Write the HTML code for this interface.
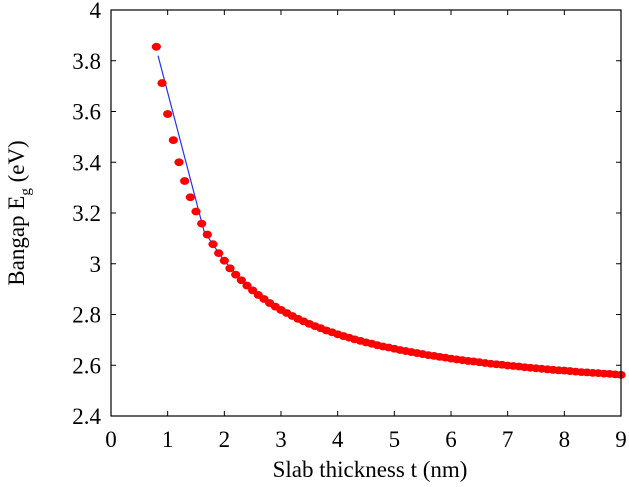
<!DOCTYPE html>
<html><head><meta charset="utf-8"><style>
html,body{margin:0;padding:0;background:#fff;}
svg{display:block;}
text{font-family:"Liberation Serif","Times New Roman",serif;}
</style></head><body>
<svg id="chart" width="629" height="487" xmlns="http://www.w3.org/2000/svg" font-family="Liberation Serif, serif">
<rect width="629" height="487" fill="#fff"/>
<g id="marks"></g>
<rect x="111" y="10" width="510" height="406" fill="none" stroke="#000" stroke-width="1.2"/>
<g id="axes"></g>
<text x="370" y="477" font-size="23" text-anchor="middle" font-family="Liberation Serif, serif">Slab thickness t (nm)</text>
<text transform="translate(24,213) rotate(-90)" font-size="23" text-anchor="middle" font-family="Liberation Serif, serif">Bangap E<tspan font-size="15" dy="6">g</tspan><tspan dy="-6"> (eV)</tspan></text>
</svg>
<script>
const thickness = [0.8,0.9,1.0,1.1,1.2,1.3,1.4,1.5,1.6,1.7,1.8,1.9,2.0,2.1,2.2,2.3,2.4,2.5,2.6,2.7,2.8,2.9,3.0,3.1,3.2,3.3,3.4,3.5,3.6,3.7,3.8,3.9,4.0,4.1,4.2,4.3,4.4,4.5,4.6,4.7,4.8,4.9,5.0,5.1,5.2,5.3,5.4,5.5,5.6,5.7,5.8,5.9,6.0,6.1,6.2,6.3,6.4,6.5,6.6,6.7,6.8,6.9,7.0,7.1,7.2,7.3,7.4,7.5,7.6,7.7,7.8,7.9,8.0,8.1,8.2,8.3,8.4,8.5,8.6,8.7,8.8,8.9,9.0];
const bandgap = [3.855,3.712,3.590,3.487,3.400,3.326,3.262,3.206,3.158,3.115,3.077,3.042,3.012,2.982,2.957,2.935,2.914,2.895,2.877,2.861,2.845,2.831,2.818,2.806,2.794,2.783,2.773,2.763,2.754,2.746,2.737,2.730,2.722,2.715,2.709,2.702,2.696,2.690,2.685,2.679,2.674,2.670,2.665,2.660,2.656,2.652,2.648,2.644,2.640,2.637,2.633,2.630,2.626,2.623,2.620,2.617,2.615,2.612,2.609,2.606,2.604,2.602,2.599,2.597,2.595,2.592,2.590,2.588,2.586,2.584,2.582,2.580,2.579,2.577,2.575,2.573,2.572,2.570,2.569,2.567,2.566,2.564,2.562,2.560,2.558];
const fitT = [0.83,1.64,1.8,2.0,2.3,2.6,3.0,4.0,5.0,6.0,7.0,8.0,9.0];
const fitE = [3.82,3.13,3.075,3.012,2.935,2.877,2.818,2.722,2.665,2.626,2.599,2.579,2.558];
const xTicks = [0,1,2,3,4,5,6,7,8,9];
const yTicks = [2.4,2.6,2.8,3,3.2,3.4,3.6,3.8,4];
const yTickLabels = ["2.4","2.6","2.8","3","3.2","3.4","3.6","3.8","4"];

const X0=111,X1=621,Y0=416,Y1=10;
const xs = t => X0 + (t-0)/(9-0)*(X1-X0);
const ys = e => Y0 - (e-2.4)/(4-2.4)*(Y0-Y1);
const NS="http://www.w3.org/2000/svg";
const marks=document.getElementById('marks'), axes=document.getElementById('axes');

const fit=document.createElementNS(NS,'polyline');
fit.setAttribute('points', fitT.map((t,i)=>xs(t)+','+ys(fitE[i])).join(' '));
fit.setAttribute('fill','none'); fit.setAttribute('stroke','#2233ee'); fit.setAttribute('stroke-width','1.2');


marks.appendChild(fit);

thickness.forEach((t,i)=>{
  const c=document.createElementNS(NS,'ellipse');
  c.setAttribute('cx',xs(t)); c.setAttribute('cy',ys(bandgap[i]));
  c.setAttribute('rx',4.6); c.setAttribute('ry',3.9); c.setAttribute('fill','#ff0000');
  
  
  marks.appendChild(c);
});

xTicks.forEach(v=>{
  const x=xs(v);
  [[Y0,Y0-5],[Y1,Y1+5]].forEach(p=>{
    const l=document.createElementNS(NS,'line');
    l.setAttribute('x1',x);l.setAttribute('x2',x);l.setAttribute('y1',p[0]);l.setAttribute('y2',p[1]);
    l.setAttribute('stroke','#000');
    
    
    axes.appendChild(l);
  });
  const tx=document.createElementNS(NS,'text');
  tx.setAttribute('x',x);tx.setAttribute('y',447);tx.setAttribute('font-size','23');tx.setAttribute('text-anchor','middle');
  tx.setAttribute('font-family','Liberation Serif, serif');
  tx.textContent=String(v);
  
  
  axes.appendChild(tx);
});
yTicks.forEach((v,i)=>{
  const y=ys(v);
  [[X0,X0+5],[X1,X1-5]].forEach(p=>{
    const l=document.createElementNS(NS,'line');
    l.setAttribute('x1',p[0]);l.setAttribute('x2',p[1]);l.setAttribute('y1',y);l.setAttribute('y2',y);
    l.setAttribute('stroke','#000');
    
    
    axes.appendChild(l);
  });
  const tx=document.createElementNS(NS,'text');
  tx.setAttribute('x',101);tx.setAttribute('y',y+8);tx.setAttribute('font-size','23');tx.setAttribute('text-anchor','end');
  tx.setAttribute('font-family','Liberation Serif, serif');
  tx.textContent=yTickLabels[i];
  
  
  axes.appendChild(tx);
});
</script>
</body></html>
